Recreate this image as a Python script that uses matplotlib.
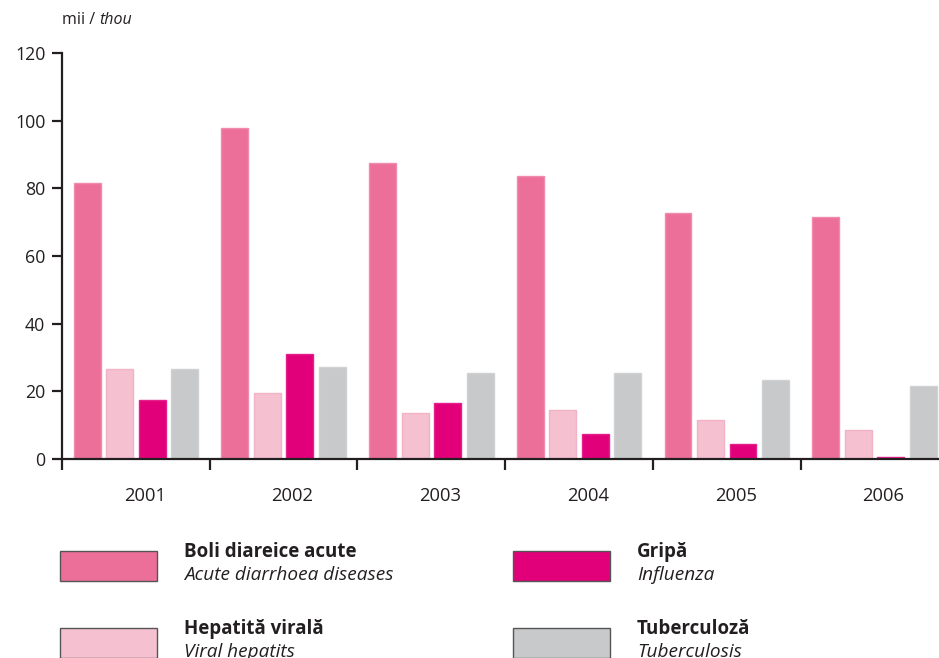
import matplotlib
matplotlib.use("Agg")
import matplotlib.pyplot as plt
from matplotlib.patches import Rectangle
import numpy as np

plt.rcParams['font.family'] = ['Open Sans', 'DejaVu Sans']

years = ["2001", "2002", "2003", "2004", "2005", "2006"]
series_ro = ["Boli diareice acute", "Hepatită virală", "Gripă", "Tuberculoză"]
series_en = ["Acute diarrhoea diseases", "Viral hepatits", "Influenza", "Tuberculosis"]
diarrhoea = [81.6, 97.8, 87.6, 83.6, 72.6, 71.5]
hepatitis = [26.6, 19.5, 13.5, 14.5, 11.5, 8.6]
influenza = [17.4, 31.0, 16.5, 7.4, 4.4, 0.7]
tuberculosis = [26.6, 27.2, 25.4, 25.4, 23.4, 21.6]
colors = ["#EC6F99", "#F5C0D0", "#E2007A", "#C8C9CB"]
edges = ["#F08AAE", "#F2B3C6", "#E5208C", "#D0D1D3"]
yticks = [0, 20, 40, 60, 80, 100, 120]

TXT = "#231F20"
W, H = 939, 658
fig = plt.figure(figsize=(W / 100, H / 100), dpi=100)
ax = fig.add_axes([62 / W, 1 - 459 / H, (W - 62) / W + 0.01, (459 - 53) / H])

data = [diarrhoea, hepatitis, influenza, tuberculosis]
x = np.arange(len(years))
offsets = [-0.33, -0.11, 0.11, 0.33]
for vals, off, c, e in zip(data, offsets, colors, edges):
    ax.bar(x + 0.5 + off, vals, width=0.182, color=c, edgecolor=e, linewidth=1.0, zorder=2)

ax.set_xlim(0, (W - 62 + 9.39) / 148)
ax.set_ylim(0, 120)
ax.set_yticks(yticks)
ax.set_yticklabels([str(v) for v in yticks])
ax.set_xticks(np.arange(0, 7))
ax.set_xticklabels([])
ax.set_xticks(x + 0.5 + 9 / 148, minor=True)
ax.set_xticklabels(years, minor=True)
ax.tick_params(axis='x', which='minor', length=0, pad=20, labelsize=13.2, labelcolor=TXT)
ax.tick_params(axis='x', which='major', direction='out', length=8, width=1.6, color=TXT)
ax.tick_params(axis='y', direction='out', length=7, width=1.6, color=TXT, labelsize=12.8,
               labelcolor=TXT, pad=5)
for s in ['top', 'right']:
    ax.spines[s].set_visible(False)
for s in ['left', 'bottom']:
    ax.spines[s].set_color(TXT)
    ax.spines[s].set_linewidth(1.6)

# unit label
t1 = fig.text(62 / W, 1 - 20 / H, "mii / ", fontsize=11.5, color=TXT, ha='left', va='center')
fig.canvas.draw()
bb = t1.get_window_extent()
fig.text(bb.x1 / W, 1 - 20 / H, "thou", fontsize=11.5, color=TXT, style='italic',
         ha='left', va='center')

# legend
pos = [(60, 551), (60, 628), (513, 551), (513, 628)]
for (px, py), c, ro, en in zip(pos, colors, series_ro, series_en):
    fig.add_artist(Rectangle((px / W, 1 - (py + 30) / H), 97 / W, 30 / H,
                             transform=fig.transFigure, facecolor=c,
                             edgecolor="#555555", linewidth=1.0))
    fig.text((px + 124) / W, 1 - (py + 1) / H, ro, fontsize=13.5, fontweight='bold',
             color=TXT, ha='left', va='center')
    fig.text((px + 124) / W, 1 - (py + 24) / H, en, fontsize=13.7, style='italic',
             color=TXT, ha='left', va='center')

fig.savefig("out.png", dpi=100)
